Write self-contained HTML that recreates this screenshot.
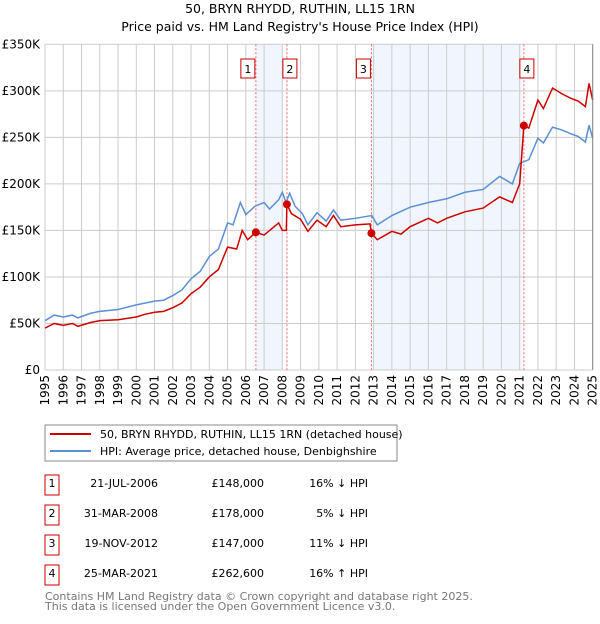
<!DOCTYPE html>
<html><head><meta charset="utf-8"><style>
body{margin:0;width:600px;height:620px;background:#fff;font-family:"DejaVu Sans","Liberation Sans",sans-serif;overflow:hidden}
svg text{font-family:"DejaVu Sans","Liberation Sans",sans-serif}
</style></head><body>
<svg id="c" width="600" height="620">
<text x="300" y="13" font-size="12.5" text-anchor="middle">50, BRYN RHYDD, RUTHIN, LL15 1RN</text>
<text x="300" y="31" font-size="12.5" text-anchor="middle">Price paid vs. HM Land Registry's House Price Index (HPI)</text>
<g id="grid"></g><g id="marks"></g><g id="axes"></g>
<rect x="45" y="425" width="352" height="36" fill="#fff" stroke="#888"/>
<line x1="50" y1="434" x2="91" y2="434" stroke="#cc0000" stroke-width="2"/>
<text x="100" y="438" font-size="11">50, BRYN RHYDD, RUTHIN, LL15 1RN (detached house)</text>
<line x1="50" y1="451" x2="91" y2="451" stroke="#5b8fd4" stroke-width="2"/>
<text x="100" y="455" font-size="11">HPI: Average price, detached house, Denbighshire</text>
<g id="table" font-size="11"></g>
<text x="45" y="600" font-size="11" fill="#777">Contains HM Land Registry data © Crown copyright and database right 2025.</text>
<text x="45" y="610" font-size="11" fill="#777">This data is licensed under the Open Government Licence v3.0.</text>
</svg>
<script>
const hpiYears=[1995,1995.5,1996,1996.5,1996.8,1997.5,1998,1999,2000,2000.5,2001,2001.5,2002,2002.5,2003,2003.5,2004,2004.5,2005,2005.3,2005.7,2006,2006.5,2007,2007.3,2007.8,2008,2008.2,2008.4,2008.7,2009.1,2009.4,2009.9,2010.4,2010.8,2011.2,2012,2012.9,2013.2,2014,2015,2016,2017,2018,2019,2019.9,2020.6,2021,2021.5,2022,2022.3,2022.8,2023.3,2023.8,2024.2,2024.6,2024.8,2025];
const hpiValues=[53,59,57,59,56,61,63,65,70,72,74,75,80,86,98,106,122,130,158,156,180,167,176,180,173,183,191,180,190,176,168,156,169,160,172,161,163,166,156,166,175,180,184,191,194,208,200,222,226,249,244,261,258,254,251,245,263,249];
const priceYears=[1995,1995.5,1996,1996.5,1996.8,1997.5,1998,1999,2000,2000.5,2001,2001.5,2002,2002.5,2003,2003.5,2004,2004.5,2005,2005.5,2005.8,2006.1,2006.55,2007,2007.8,2008,2008.22,2008.25,2008.5,2009,2009.4,2009.9,2010.4,2010.8,2011.2,2012,2012.8,2012.88,2013.2,2014,2014.5,2015,2016,2016.5,2017,2018,2019,2019.9,2020.6,2021,2021.23,2021.5,2022,2022.3,2022.8,2023.3,2023.8,2024.2,2024.6,2024.8,2025];
const priceValues=[45,50,48,50,47,51,53,54,57,60,62,63,67,72,82,89,100,108,132,130,150,140,148,145,158,150,150,178,168,162,149,161,154,166,154,156,157,147,140,149,146,154,163,158,163,170,174,186,180,200,262.6,260,290,281,303,297,292,289,283,308,290];
const saleLabels=["1","2","3","4"];
const saleYears=[2006.55,2008.25,2012.88,2021.23];
const saleValues=[148,178,147,262.6];
const saleDates=["21-JUL-2006","31-MAR-2008","19-NOV-2012","25-MAR-2021"];
const salePrices=["£148,000","£178,000","£147,000","£262,600"];
const saleDiffs=["16% ↓ HPI","5% ↓ HPI","11% ↓ HPI","16% ↑ HPI"];
const yTicks=[0,50,100,150,200,250,300,350];
const yTickLabels=["£0","£50K","£100K","£150K","£200K","£250K","£300K","£350K"];
const xTicks=[1995,1996,1997,1998,1999,2000,2001,2002,2003,2004,2005,2006,2007,2008,2009,2010,2011,2012,2013,2014,2015,2016,2017,2018,2019,2020,2021,2022,2023,2024,2025];
const shadeRanges=[[2006.55,2008.0],[2012.88,2021.1]];

const NS="http://www.w3.org/2000/svg";
const X0=45,X1=592.7,Y0=370,Y1=44.3;
const xs=y=>X0+(y-1995)/30*(X1-X0);
const ys=v=>Y0-v/350*(Y0-Y1);
function mk(tag,attrs,parent){const e=document.createElementNS(NS,tag);for(const k in attrs)e.setAttribute(k,attrs[k]);document.getElementById(parent).appendChild(e);return e;}

shadeRanges.forEach(r=>{
 const e=mk('rect',{x:xs(r[0]),y:Y1,width:xs(r[1])-xs(r[0]),height:Y0-Y1,fill:'#eef3fc',opacity:0.8},'grid');
 
 
});
yTicks.forEach((t,i)=>{
 const l=mk('line',{x1:X0,x2:X1,y1:ys(t),y2:ys(t),stroke:'#ccc'},'grid');
 
 
 const tx=mk('text',{x:40,y:ys(t)+4,'font-size':12,'text-anchor':'end'},'axes');
 tx.textContent=yTickLabels[i];
 
 
});
xTicks.forEach(t=>{
 const l=mk('line',{x1:xs(t),x2:xs(t),y1:Y1,y2:Y0,stroke:'#ccc'},'grid');
 
 
 const tx=mk('text',{x:0,y:0,'font-size':12,'text-anchor':'end',transform:`translate(${xs(t)+4},375) rotate(-90)`},'axes');
 tx.textContent=t;
 
 
});
saleYears.forEach((y,i)=>{
 const l=mk('line',{x1:xs(y),x2:xs(y),y1:Y1,y2:Y0,stroke:'#e66','stroke-dasharray':'2,2'},'marks');
 
 
 const b=mk('rect',{x:xs(y)-15,y:59,width:14,height:19,fill:'#fff',stroke:'#cc0000'},'marks');
 if(i==1||i==3)b.setAttribute('x',xs(y)-4);
 
 
 const t=mk('text',{x:+b.getAttribute('x')+7,y:73,'font-size':11,'text-anchor':'middle'},'marks');
 t.textContent=saleLabels[i];
 
 
});
const hp=mk('polyline',{points:hpiYears.map((y,i)=>xs(y)+','+ys(hpiValues[i])).join(' '),fill:'none',stroke:'#5b8fd4','stroke-width':1.5},'marks');


const pp=mk('polyline',{points:priceYears.map((y,i)=>xs(y)+','+ys(priceValues[i])).join(' '),fill:'none',stroke:'#cc0000','stroke-width':1.5},'marks');


saleYears.forEach((y,i)=>{
 const c=mk('circle',{cx:xs(y),cy:ys(saleValues[i]),r:4,fill:'#cc0000'},'marks');
 
 
});
mk('line',{x1:X1,x2:X1,y1:Y1,y2:Y0,stroke:'#888'},'axes');
saleLabels.forEach((s,i)=>{
 const ry=475+i*30;
 const b=mk('rect',{x:45,y:ry,width:14,height:20,fill:'#fff',stroke:'#cc0000'},'table');
 
 
 const cells=[[52,s,'middle'],[158,saleDates[i],'end'],[264,salePrices[i],'end'],[368,saleDiffs[i],'end']];
 cells.forEach(c=>{
  const t=mk('text',{x:c[0],y:ry+12,'text-anchor':c[2]},'table');
  t.textContent=c[1];
  
  
 });
});
</script>
</body></html>
